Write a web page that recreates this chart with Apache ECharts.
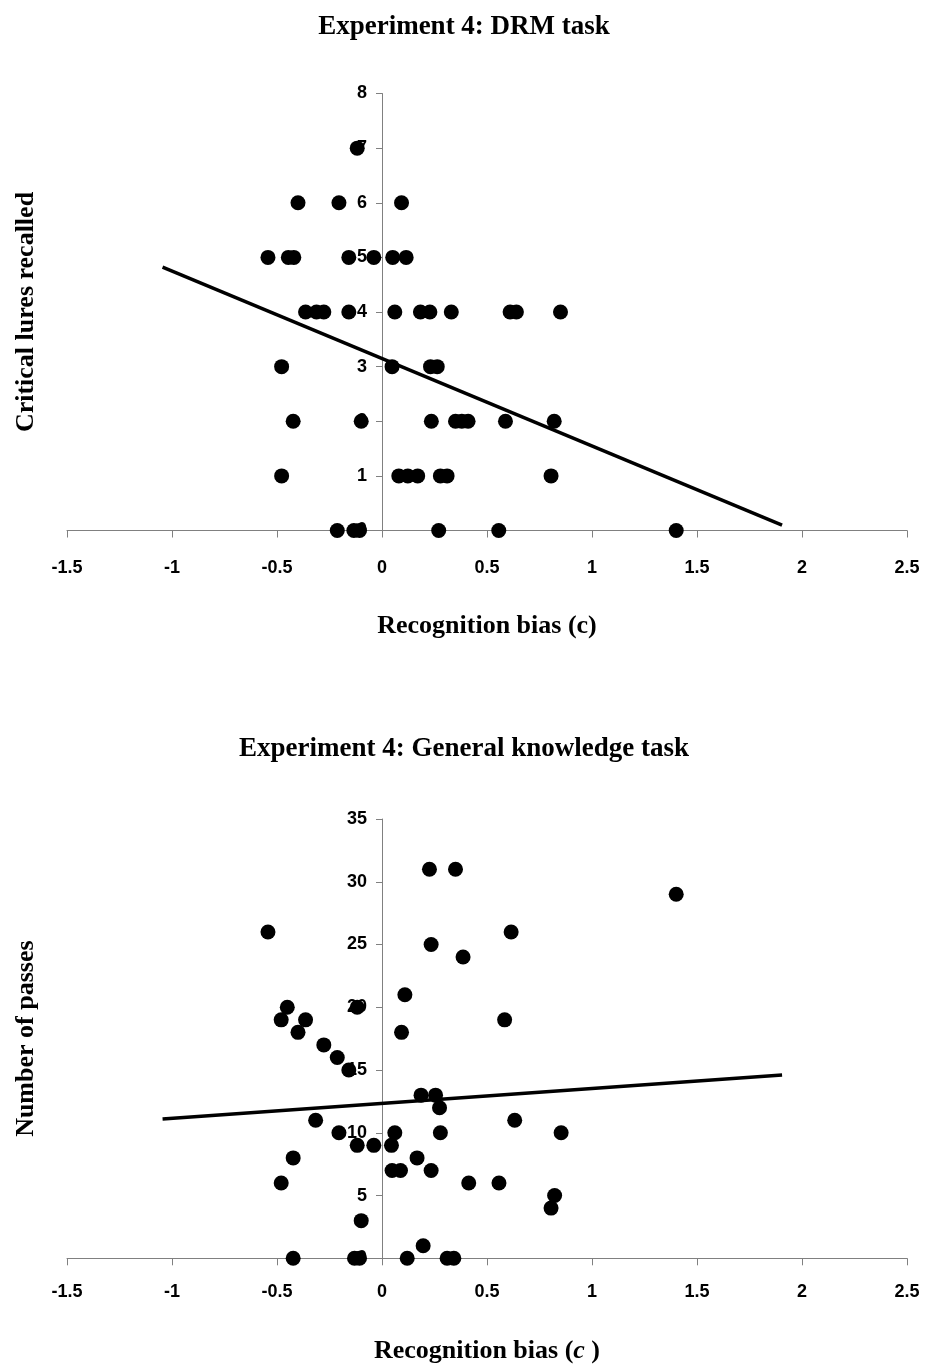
<!DOCTYPE html>
<html>
<head>
<meta charset="utf-8">
<script src="https://cdn.jsdelivr.net/npm/echarts@6/dist/echarts.min.js"></script>
<style>
html,body{margin:0;padding:0;background:#fff;}
#chart{width:928px;height:1368px;}
</style>
</head>
<body>
<div id="chart"></div>
<script>
// ---- Data ----
var xTickLabels = ['-1.5','-1','-0.5','0','0.5','1','1.5','2','2.5'];
var drmYTicks = [0,1,2,3,4,5,6,7,8];
var gkYTicks = [0,5,10,15,20,25,30,35];

// Experiment 4: DRM task  (recognition bias c, critical lures recalled)
var drmBias = [
  -0.118,
  -0.40, -0.205, 0.093,
  -0.543, -0.446, -0.42, -0.158, -0.039, 0.051, 0.115,
  -0.364, -0.312, -0.277, -0.158, 0.061, 0.183, 0.228, 0.33, 0.61, 0.64, 0.85,
  -0.478, 0.048, 0.231, 0.263,
  -0.423, -0.099, 0.235, 0.35, 0.38, 0.41, 0.588, 0.82,
  -0.478, 0.080, 0.123, 0.170, 0.278, 0.31, 0.805,
  -0.213, -0.134, -0.107, 0.27, 0.556, 1.401
];
var drmLures = [
  7,
  6, 6, 6,
  5, 5, 5, 5, 5, 5, 5,
  4, 4, 4, 4, 4, 4, 4, 4, 4, 4, 4,
  3, 3, 3, 3,
  2, 2, 2, 2, 2, 2, 2, 2,
  1, 1, 1, 1, 1, 1, 1,
  0, 0, 0, 0, 0, 0
];
var drmTrendX = [-1.045, 1.905];
var drmTrendY = [4.82, 0.10];

// Experiment 4: General knowledge task (recognition bias c, number of passes)
var gkBias = [
  -0.543, -0.48, -0.48, -0.451, -0.423, -0.423, -0.40, -0.364, -0.316, -0.277,
  -0.213, -0.205, -0.158, -0.131, -0.118, -0.118, -0.107, -0.099, -0.039, 0.045,
  0.048, 0.061, 0.088, 0.093, 0.109, 0.12, 0.167, 0.186, 0.196, 0.226,
  0.234, 0.234, 0.255, 0.274, 0.278, 0.31, 0.342, 0.35, 0.386, 0.413,
  0.557, 0.584, 0.615, 0.632, 0.805, 0.822, 0.853, 1.401
];
var gkPasses = [
  26, 19, 6, 20, 8, 0, 18, 19, 11, 17,
  16, 10, 15, 0, 20, 9, 0, 3, 9, 9,
  7, 10, 7, 18, 21, 0, 8, 13, 1, 31,
  7, 25, 13, 12, 10, 0, 0, 31, 24, 6,
  6, 19, 26, 11, 4, 5, 10, 29
];
var gkTrendX = [-1.045, 1.905];
var gkTrendY = [11.1, 14.6];

// ---- Build chart ----
function pairs(xs, ys){ return xs.map(function(x,i){ return [x, ys[i]]; }); }
var xMin = parseFloat(xTickLabels[0]), xMax = parseFloat(xTickLabels[xTickLabels.length-1]);

var gridLeft = 67, gridWidth = 840;
// the value axis crosses the category axis at x = 0: shift it there through the x scale
var yAxisShift = -(0 - xMin) / (xMax - xMin) * gridWidth;

var serif = '"Liberation Serif","Times New Roman",serif';
var sans = '"Liberation Sans",Arial,sans-serif';
var axisGray = '#808080';

function xAxisCfg(gridIndex, name, nameGap, labelMargin, rich){
  return {
    type:'value', gridIndex:gridIndex, min:xMin, max:xMax, interval:0.5,
    splitLine:{show:false},
    axisLine:{show:true, onZero:false, lineStyle:{color:axisGray, width:1}},
    axisTick:{show:true, length:7, lineStyle:{color:axisGray}},
    axisLabel:{margin:labelMargin, color:'#000', fontFamily:sans, fontWeight:'bold', fontSize:18,
      formatter:function(v){ return String(Math.round(v*10)/10); }},
    name:name, nameLocation:'middle', nameGap:nameGap,
    nameTextStyle:{color:'#000', fontFamily:serif, fontWeight:'bold', fontSize:26, rich:rich}
  };
}
function yAxisCfg(gridIndex, ticks, name, nameGap){
  return {
    type:'value', gridIndex:gridIndex, min:ticks[0], max:ticks[ticks.length-1],
    interval:ticks[1]-ticks[0], position:'left', offset:yAxisShift,
    splitLine:{show:false},
    axisLine:{show:true, onZero:false, lineStyle:{color:axisGray, width:1}},
    axisTick:{show:true, length:6, lineStyle:{color:axisGray}},
    axisLabel:{margin:15, color:'#000', fontFamily:sans, fontWeight:'bold', fontSize:18},
    name:name, nameLocation:'middle', nameGap:nameGap, nameRotate:90,
    nameTextStyle:{color:'#000', fontFamily:serif, fontWeight:'bold', fontSize:26}
  };
}

var chart = echarts.init(document.getElementById('chart'), null, {renderer:'canvas'});
chart.setOption({
  animation:false,
  backgroundColor:'#fff',
  title:[
    {text:'Experiment 4: DRM task', left:'center', top:9,
     textStyle:{fontFamily:serif, fontWeight:'bold', fontSize:27, color:'#000'}},
    {text:'Experiment 4: General knowledge task', left:'center', top:731,
     textStyle:{fontFamily:serif, fontWeight:'bold', fontSize:27, color:'#000'}}
  ],
  grid:[
    {left:gridLeft, width:gridWidth, top:93.5, height:437, containLabel:false, outerBoundsMode:'none'},
    {left:gridLeft, width:gridWidth, top:819, height:439.3, containLabel:false, outerBoundsMode:'none'}
  ],
  xAxis:[
    xAxisCfg(0, 'Recognition bias (c)', 83, 29),
    xAxisCfg(1, '{n|Recognition bias (}{i|c}{n| )}', 80, 25, {
      n:{fontFamily:serif, fontWeight:'bold', fontSize:26, color:'#000'},
      i:{fontFamily:serif, fontWeight:'bold', fontStyle:'italic', fontSize:26, color:'#000'}
    })
  ],
  yAxis:[
    yAxisCfg(0, drmYTicks, 'Critical lures recalled', 343),
    yAxisCfg(1, gkYTicks, 'Number of passes', 343)
  ],
  series:[
    {type:'scatter', xAxisIndex:0, yAxisIndex:0, data:pairs(drmBias, drmLures),
     symbol:'circle', symbolSize:15, itemStyle:{color:'#000', opacity:1}, z:3},
    {type:'line', xAxisIndex:0, yAxisIndex:0, data:pairs(drmTrendX, drmTrendY),
     symbol:'none', lineStyle:{color:'#000', width:3.5}, z:4},
    {type:'scatter', xAxisIndex:1, yAxisIndex:1, data:pairs(gkBias, gkPasses),
     symbol:'circle', symbolSize:15, itemStyle:{color:'#000', opacity:1}, z:3},
    {type:'line', xAxisIndex:1, yAxisIndex:1, data:pairs(gkTrendX, gkTrendY),
     symbol:'none', lineStyle:{color:'#000', width:3.5}, z:4}
  ]
});
</script>
</body>
</html>
